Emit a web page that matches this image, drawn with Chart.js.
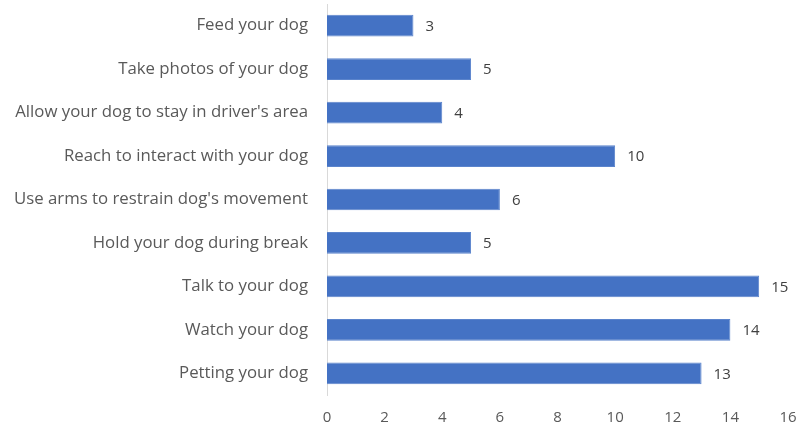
<!DOCTYPE html>
<html>
<head>
<meta charset="utf-8">
<script src="https://cdn.jsdelivr.net/npm/chart.js@4/dist/chart.umd.min.js"></script>
<style>
  html, body { margin: 0; padding: 0; background: #ffffff; }
  #wrap { width: 802px; height: 434px; position: relative; }
</style>
</head>
<body>
<div id="wrap"><canvas id="c"></canvas></div>
<script>
// Behaviours while driving with a dog (count of responses)
const categories = [
  "Feed your dog",
  "Take photos of your dog",
  "Allow your dog to stay in driver's area",
  "Reach to interact with your dog",
  "Use arms to restrain dog's movement",
  "Hold your dog during break",
  "Talk to your dog",
  "Watch your dog",
  "Petting your dog"
];
const counts = [3, 5, 4, 10, 6, 5, 15, 14, 13];
const xTicks = [0, 2, 4, 6, 8, 10, 12, 14, 16];

const FONT = "'Open Sans', sans-serif";

// Writes each bar's value just past its end
const valueLabels = {
  id: 'valueLabels',
  afterDatasetsDraw(chart) {
    const ctx = chart.ctx;
    const meta = chart.getDatasetMeta(0);
    ctx.save();
    ctx.font = "15px " + FONT;
    ctx.fillStyle = "#404040";
    ctx.textAlign = "left";
    ctx.textBaseline = "middle";
    meta.data.forEach((bar, i) => {
      ctx.fillText(String(counts[i]), bar.x + 12, bar.y + 1);
    });
    ctx.restore();
  }
};

new Chart(document.getElementById('c'), {
  type: 'bar',
  data: {
    labels: categories,
    datasets: [{
      data: counts,
      backgroundColor: '#4472C4',
      borderColor: '#5b84cc',
      borderWidth: 1,
      barPercentage: 0.5,
      categoryPercentage: 1.0
    }]
  },
  options: {
    indexAxis: 'y',
    responsive: true,
    maintainAspectRatio: false,
    animation: false,
    layout: { padding: { top: 4, right: 14, bottom: 0, left: 0 } },
    plugins: { legend: { display: false }, tooltip: { enabled: false } },
    scales: {
      x: {
        min: 0, max: 16,
        afterBuildTicks(axis) { axis.ticks = xTicks.map(v => ({ value: v })); },
        grid: { display: false, drawTicks: false },
        border: { display: false },
        ticks: { color: '#595959', font: { family: FONT, size: 15 }, padding: 14 },
        afterFit(axis) { axis.height = 39; axis.paddingLeft = 0; axis.paddingRight = 0; }
      },
      y: {
        grid: { display: false, drawTicks: false },
        border: { display: true, color: '#d9d9d9', width: 1 },
        ticks: { color: '#595959', font: { family: FONT, size: 16.8 }, padding: 19 },
        afterFit(axis) { axis.width = 327; axis.paddingTop = 0; axis.paddingBottom = 0; }
      }
    }
  },
  plugins: [valueLabels]
});
</script>
</body>
</html>
